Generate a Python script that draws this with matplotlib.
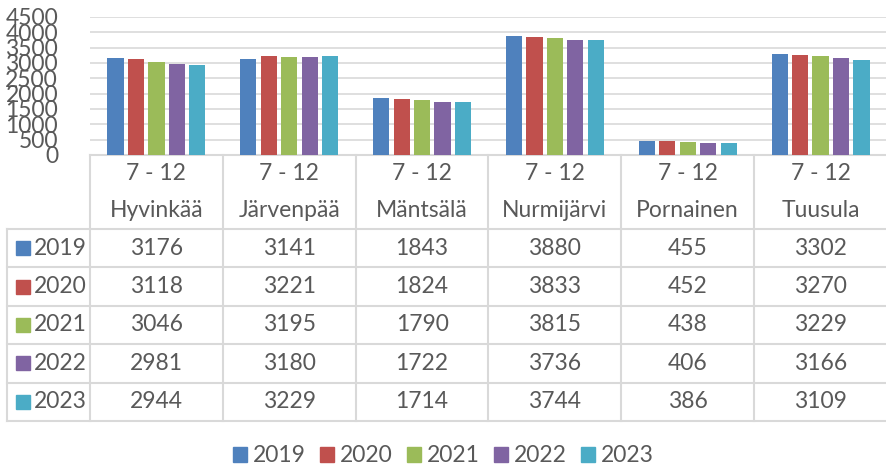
import matplotlib
matplotlib.use("Agg")
import matplotlib.pyplot as plt
import matplotlib.transforms as mtransforms
from matplotlib.patches import Rectangle

plt.rcParams['font.family'] = ['Lato', 'DejaVu Sans']

municipalities = ["Hyvinkää", "Järvenpää", "Mäntsälä", "Nurmijärvi", "Pornainen", "Tuusula"]
grade_label = "7 - 12"
years = ["2019", "2020", "2021", "2022", "2023"]
v2019 = [3176, 3141, 1843, 3880, 455, 3302]
v2020 = [3118, 3221, 1824, 3833, 452, 3270]
v2021 = [3046, 3195, 1790, 3815, 438, 3229]
v2022 = [2981, 3180, 1722, 3736, 406, 3166]
v2023 = [2944, 3229, 1714, 3744, 386, 3109]
series = [v2019, v2020, v2021, v2022, v2023]
colors = ["#4F81BD", "#C0504D", "#9BBB59", "#8064A2", "#4BACC6"]
yticks = [0, 500, 1000, 1500, 2000, 2500, 3000, 3500, 4000, 4500]

W, H = 887, 468
fig = plt.figure(figsize=(W / 100, H / 100), dpi=100)
# axes in pixel coords: left 90, right 887, top 17, bottom 155
ax = fig.add_axes([90 / W, 1 - 155 / H, (887 - 90) / W, (155 - 17) / H])

TXT = "#595959"
GRID = "#D9D9D9"
FS = 16.5

pitch = 0.154
bw = 0.122
n = len(municipalities)
for i, (vals, c) in enumerate(zip(series, colors)):
    xs = [k + (i - 2) * pitch for k in range(n)]
    ax.bar(xs, vals, width=bw, color=c, zorder=3)

ax.set_xlim(-0.5, n - 0.5)
ax.set_ylim(0, 4500)
ax.set_yticks(yticks)
ax.set_yticklabels([str(t) for t in yticks], fontsize=FS, color=TXT)
ax.tick_params(axis='y', length=0, pad=23)
ax.tick_params(axis='x', length=0, labelbottom=False)
for s in ax.spines.values():
    s.set_visible(False)
ax.yaxis.grid(True, color=GRID, linewidth=1.2, zorder=0)
ax.set_axisbelow(True)

# table below the plot: x in data coords, y in axes fraction
tr = mtransforms.blended_transform_factory(ax.transData, ax.transAxes)
plot_h = 155 - 17
def yf(px):
    return (155 - px) / plot_h

header_top = 155
header_bot = 229
row_h = (421 - 229) / 5
row_edges = [header_bot + r * row_h for r in range(6)]
x_left_label = -0.5 - 83 / 133
x_right = n - 0.5

lw = 1.5
# horizontal lines
ax.plot([-0.5, x_right], [yf(header_top)] * 2, color=GRID, lw=lw, transform=tr, clip_on=False)
for ye in row_edges:
    ax.plot([x_left_label, x_right], [yf(ye)] * 2, color=GRID, lw=lw, transform=tr, clip_on=False)
# vertical lines
for k in range(n):
    ax.plot([k - 0.5, k - 0.5], [yf(header_top), yf(row_edges[-1])], color=GRID, lw=lw, transform=tr, clip_on=False)
ax.plot([x_left_label, x_left_label], [yf(row_edges[0]), yf(row_edges[-1])], color=GRID, lw=lw, transform=tr, clip_on=False)

# header text
for k, name in enumerate(municipalities):
    ax.text(k, yf(174), grade_label, ha='center', va='center', fontsize=FS, color=TXT, transform=tr, clip_on=False)
    ax.text(k, yf(211), name, ha='center', va='center', fontsize=FS, color=TXT, transform=tr, clip_on=False)

# rows
for r, (yr, vals, c) in enumerate(zip(years, series, colors)):
    yc = yf(row_edges[r] + row_h / 2)
    # legend key square
    sq_x0 = x_left_label + 9 / 133
    sq_w = 14 / 133
    sq_h = 14 / plot_h
    ax.add_patch(Rectangle((sq_x0, yc - sq_h / 2), sq_w, sq_h, color=c, transform=tr, clip_on=False))
    ax.text(x_left_label + 27 / 133, yc, yr, ha='left', va='center', fontsize=FS, color=TXT, transform=tr, clip_on=False)
    for k, v in enumerate(vals):
        ax.text(k, yc, str(v), ha='center', va='center', fontsize=FS, color=TXT, transform=tr, clip_on=False)

# bottom legend
handles = [Rectangle((0, 0), 1, 1, color=c) for c in colors]
fig.legend(handles, years, loc='center', bbox_to_anchor=(0.5, 1 - 456 / H), ncol=5, frameon=False,
           fontsize=FS, labelcolor=TXT, handlelength=0.62, handleheight=0.62, handletextpad=0.27,
           columnspacing=0.6)

fig.savefig("out.png", dpi=100)
